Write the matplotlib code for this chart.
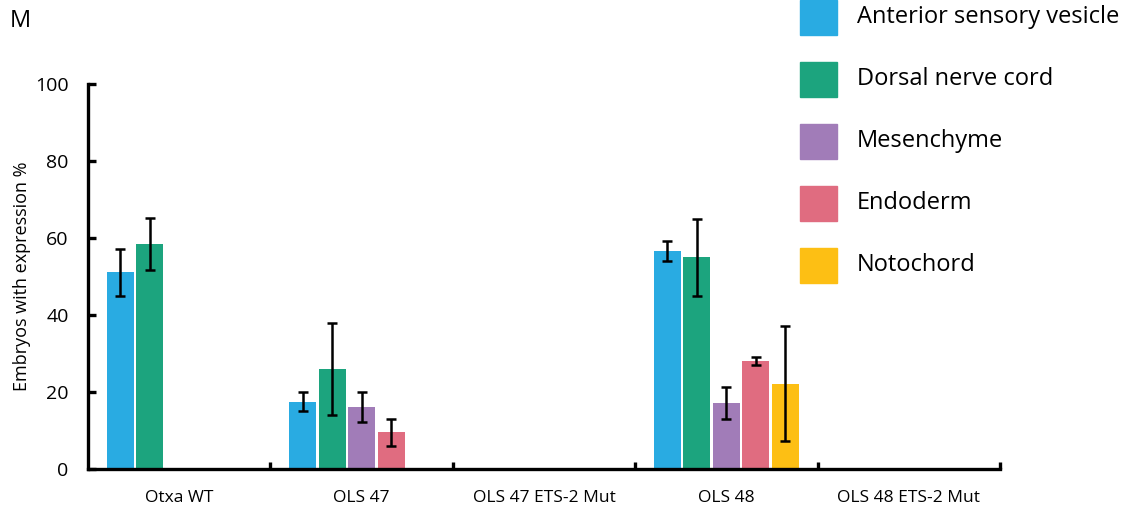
import numpy as np
import matplotlib
matplotlib.use("Agg")
import matplotlib.pyplot as plt
from matplotlib.patches import Rectangle

plt.rcParams['font.family'] = ['Open Sans', 'DejaVu Sans']

groups = ['Otxa WT', 'OLS 47', 'OLS 47 ETS-2 Mut', 'OLS 48', 'OLS 48 ETS-2 Mut']
series = ['Anterior sensory vesicle', 'Dorsal nerve cord', 'Mesenchyme', 'Endoderm', 'Notochord']
colors = ['#29ABE2', '#1CA47E', '#A17CB8', '#E06C80', '#FDBF14']

nan = np.nan
# rows = series, columns = groups
means = np.array([
    [51.1, 17.5, nan, 56.7, nan],
    [58.4, 26.0, nan, 55.0, nan],
    [nan, 16.1, nan, 17.1, nan],
    [nan, 9.5, nan, 28.1, nan],
    [nan, nan, nan, 22.2, nan],
])
errs = np.array([
    [6.1, 2.5, nan, 2.6, nan],
    [6.7, 12.0, nan, 10.0, nan],
    [nan, 4.0, nan, 4.1, nan],
    [nan, 3.5, nan, 1.1, nan],
    [nan, nan, nan, 15.0, nan],
])

W, H = 1132, 523
fig = plt.figure(figsize=(W / 100, H / 100), dpi=100)
ax = fig.add_axes([88 / W, 1 - 469 / H, 912 / W, 385 / H])

x = np.arange(len(groups))
pitch = 0.162
for j, name in enumerate(series):
    pos = x + 0.5 + (j - 2) * pitch
    ax.bar(pos, means[j], width=0.148, color=colors[j], zorder=2)
    ax.errorbar(pos, means[j], yerr=errs[j], fmt='none', ecolor='black',
                elinewidth=1.8, capsize=3.5, capthick=1.8, zorder=3)

ax.set_xlim(0, len(groups))
ax.set_ylim(0, 100)
ax.spines['top'].set_visible(False)
ax.spines['right'].set_visible(False)
ax.spines['left'].set_linewidth(2.4)
ax.spines['bottom'].set_linewidth(2.4)

ax.set_yticks([0, 20, 40, 60, 80, 100])
ax.tick_params(axis='y', direction='in', length=6, width=2.4, labelsize=14, pad=14)
ax.set_xticks(x + 1)
ax.set_xticklabels([])
ax.tick_params(axis='x', which='major', direction='in', length=5, width=2.4)
ax.set_xticks(x + 0.5, minor=True)
ax.set_xticklabels(groups, minor=True)
ax.tick_params(axis='x', which='minor', length=0, labelsize=12.5, pad=15)

ax.set_ylabel('Embryos with expression %', fontsize=13, labelpad=3)

fig.text(10 / W, 1 - 21 / H, 'M', fontsize=17, va='center', ha='left')

# legend
for j, name in enumerate(series):
    yc = 17 + 62 * j
    fig.add_artist(Rectangle((800 / W, 1 - (yc + 17.5) / H), 37 / W, 35 / H,
                             transform=fig.transFigure, color=colors[j]))
    fig.text(857 / W, 1 - yc / H, name, fontsize=17, va='center', ha='left')

fig.savefig('out.png', dpi=100)
